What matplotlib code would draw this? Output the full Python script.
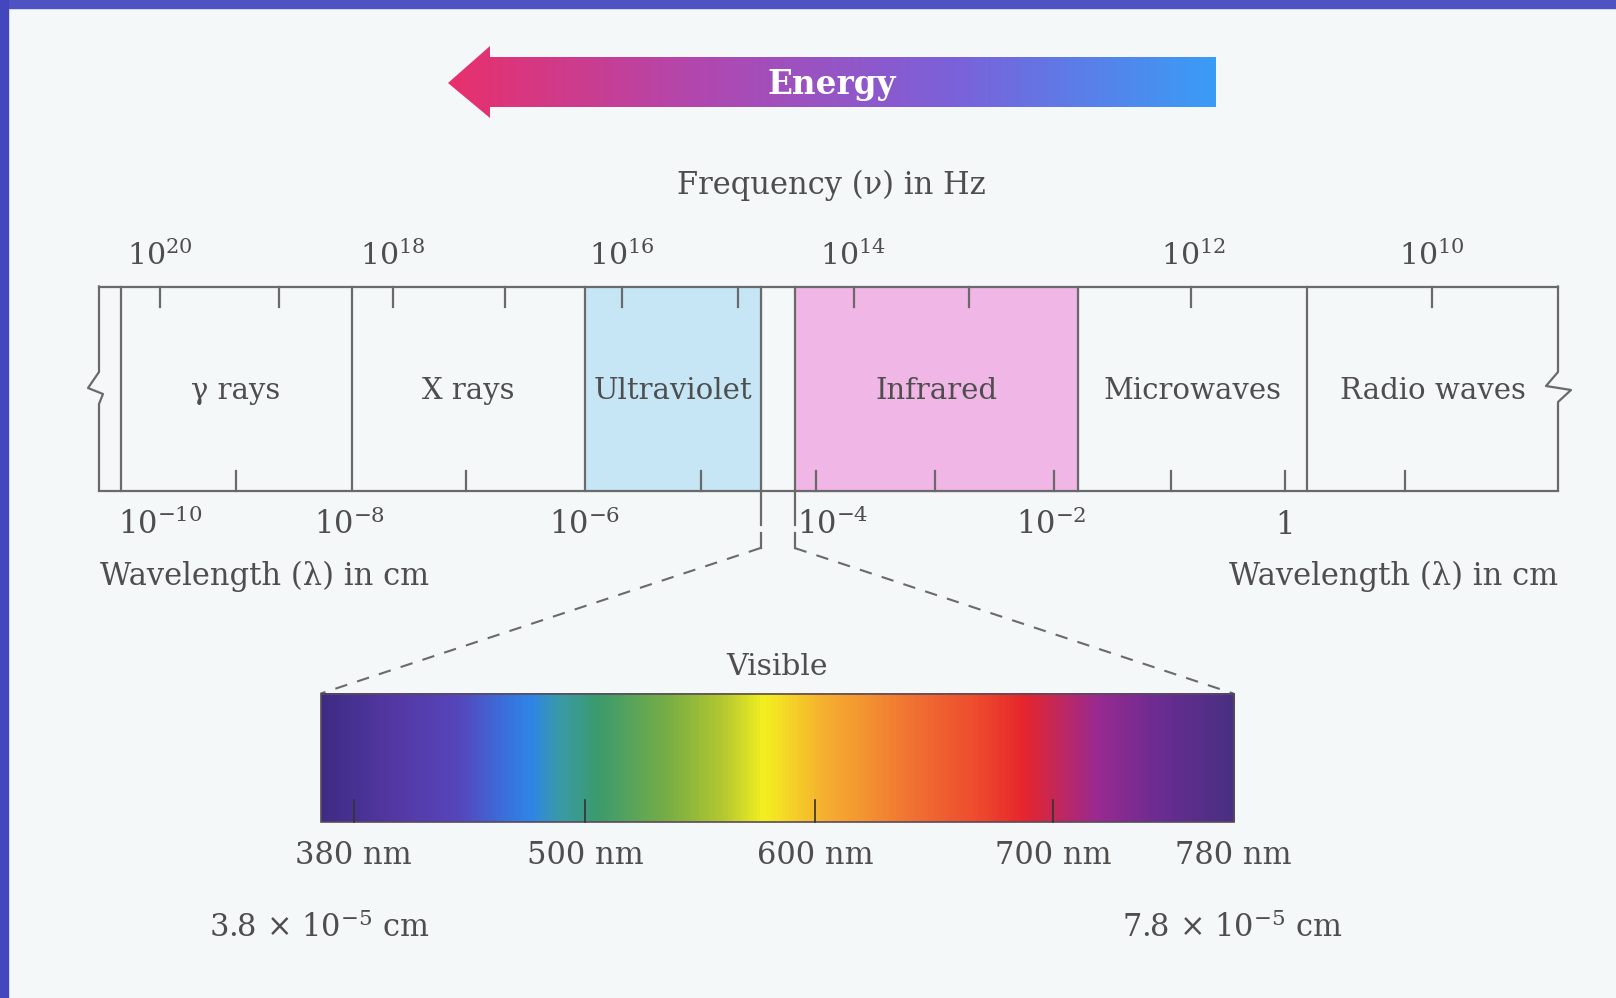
import numpy as np
import matplotlib.pyplot as plt
from matplotlib.patches import Polygon, Rectangle
from matplotlib.colors import LinearSegmentedColormap

plt.rcParams['font.family'] = ['DejaVu Serif']
plt.rcParams['mathtext.fontset'] = 'dejavuserif'

W, H = 1616, 998
bg = '#f5f8f8'
txt = '#4e4e4e'
line = '#6a6a6a'

# band regions: (name, left, right, fill)
regions = ['\u03b3 rays', 'X rays', 'Ultraviolet', 'Infrared', 'Microwaves', 'Radio waves']
region_edges = [(120.6, 351.5), (351.5, 585), (585, 760.6), (794.6, 1078), (1078, 1307), (1307, 1558)]
region_fill = [None, None, '#c6e6f6', '#f0b6e6', None, None]

freq_labels = ['$10^{20}$', '$10^{18}$', '$10^{16}$', '$10^{14}$', '$10^{12}$', '$10^{10}$']
freq_x = [160, 393, 622, 853, 1193, 1432]
top_ticks = [160, 279, 393, 505, 622, 738, 854, 969, 1191, 1432]

wl_labels = ['$10^{-10}$', '$10^{-8}$', '$10^{-6}$', '$10^{-4}$', '$10^{-2}$', '1']
wl_x = [160, 350, 585, 833, 1051, 1285]
bottom_ticks = [236, 466, 701, 816, 935, 1054, 1171, 1285, 1405]

vis_labels = ['380 nm', '500 nm', '600 nm', '700 nm', '780 nm']
vis_x = [353.5, 585, 815, 1053, 1233.6]
vis_ticks = [353.5, 585, 815, 1053]

# visible spectrum colour stops
spec_pos = [0.0, 0.08, 0.15, 0.2, 0.23, 0.26, 0.3, 0.38, 0.44, 0.485, 0.55, 0.65, 0.72, 0.77, 0.85, 0.92, 1.0]
spec_col = ['#3e2c84', '#5438a4', '#5646bc', '#3a70dc', '#2e86e6', '#3a9aa8', '#3a9a70', '#78ae44', '#b4c830',
            '#f4f020', '#f6b030', '#f07032', '#ee4a2e', '#e6262c', '#9a2a90', '#6a2c92', '#483082']

energy_stops = ['#e8306c', '#b048b0', '#7a62da', '#3a9cf6']

fig = plt.figure(figsize=(W / 100, H / 100), dpi=100)
fig.patch.set_facecolor(bg)
ax = fig.add_axes([0, 0, 1, 1])
ax.set_xlim(0, W)
ax.set_ylim(H, 0)
ax.axis('off')

# blue frame
ax.add_patch(Rectangle((0, 0), W, 8, color='#4f52c2', zorder=5))
ax.add_patch(Rectangle((0, 0), 8, H, color='#4347be', zorder=5))

# energy arrow
arrow = Polygon([(448, 83), (490, 46), (490, 57), (1216, 57), (1216, 107),
                 (490, 107), (490, 118)], closed=True, facecolor='none', edgecolor='none')
ax.add_patch(arrow)
cmap_e = LinearSegmentedColormap.from_list('energy', energy_stops)
grad = np.linspace(0, 1, 256).reshape(1, -1)
im = ax.imshow(grad, cmap=cmap_e, extent=(448, 1216, 118, 46), aspect='auto', zorder=2)
im.set_clip_path(arrow)
ax.text(832, 84, 'Energy', color='white', fontsize=23.5, fontweight='bold',
        ha='center', va='center', zorder=3)

ax.text(831, 185, 'Frequency (\u03bd) in Hz', color=txt, fontsize=22, ha='center', va='center')

top, bot = 286.5, 490.5
# fills
for (l, r), c in zip(region_edges, region_fill):
    if c:
        ax.add_patch(Rectangle((l, top), r - l, bot - top, color=c, zorder=1))
for name, (l, r) in zip(regions, region_edges):
    ax.text((l + r) / 2, 391, name, color=txt, fontsize=21, ha='center', va='center', zorder=3)

# band outline
lw = 1.6
ax.plot([99, 1558], [top, top], color=line, lw=lw)
ax.plot([99, 1558], [bot, bot], color=line, lw=lw)
for x in [120.6, 351.5, 585, 1078, 1307]:
    ax.plot([x, x], [top, bot], color=line, lw=lw)
ax.plot([760.6, 760.6], [top, 525], color=line, lw=lw)
ax.plot([794.6, 794.6], [top, 525], color=line, lw=lw)
ax.plot([760.6, 760.6], [533, 548], color=line, lw=lw)
ax.plot([794.6, 794.6], [533, 548], color=line, lw=lw)

# break squiggles
ax.plot([99, 99, 88, 103, 99, 99], [top, 372, 388, 394, 404, bot], color=line, lw=lw)
ax.plot([1558, 1558, 1546, 1571, 1558, 1558], [top, 372, 386, 390, 402, bot], color=line, lw=lw)

for x in top_ticks:
    ax.plot([x, x], [top, top + 20], color=line, lw=lw)
for x in bottom_ticks:
    ax.plot([x, x], [bot, bot - 20], color=line, lw=lw)

for lab, x in zip(freq_labels, freq_x):
    ax.text(x, 256, lab, color=txt, fontsize=21.5, ha='center', va='center')
for lab, x in zip(wl_labels, wl_x):
    ax.text(x, 525, lab, color=txt, fontsize=22, ha='center', va='center')

ax.text(100, 576, 'Wavelength (\u03bb) in cm', color=txt, fontsize=22, ha='left', va='center')
ax.text(1558, 576, 'Wavelength (\u03bb) in cm', color=txt, fontsize=22, ha='right', va='center')

# dashed zoom lines
vl, vr, vt, vb = 320.5, 1233.6, 693.6, 822.4
ax.plot([760.6, vl], [548, vt], color=line, lw=1.5, ls=(0, (6, 5)))
ax.plot([794.6, vr], [548, vt], color=line, lw=1.5, ls=(0, (6, 5)))

# visible spectrum
cmap_v = LinearSegmentedColormap.from_list('vis', list(zip(spec_pos, spec_col)))
ax.imshow(grad, cmap=cmap_v, extent=(vl, vr, vb, vt), aspect='auto', zorder=2)
ax.add_patch(Rectangle((vl, vt), vr - vl, vb - vt, fill=False, edgecolor='#5a4a5a', lw=1.2, zorder=3))
for x in vis_ticks:
    ax.plot([x, x], [vb, vb - 22], color='#333333', lw=1.2, zorder=3)

ax.text(777, 667, 'Visible', color=txt, fontsize=21.5, ha='center', va='center')
for lab, x in zip(vis_labels, vis_x):
    ax.text(x, 856, lab, color=txt, fontsize=22, ha='center', va='center')
ax.text(319.5, 928, r'3.8 $\times$ $10^{-5}$ cm', color=txt, fontsize=22, ha='center', va='center')
ax.text(1232.6, 928, r'7.8 $\times$ $10^{-5}$ cm', color=txt, fontsize=22, ha='center', va='center')

fig.savefig('out.png', dpi=100, facecolor=bg)
